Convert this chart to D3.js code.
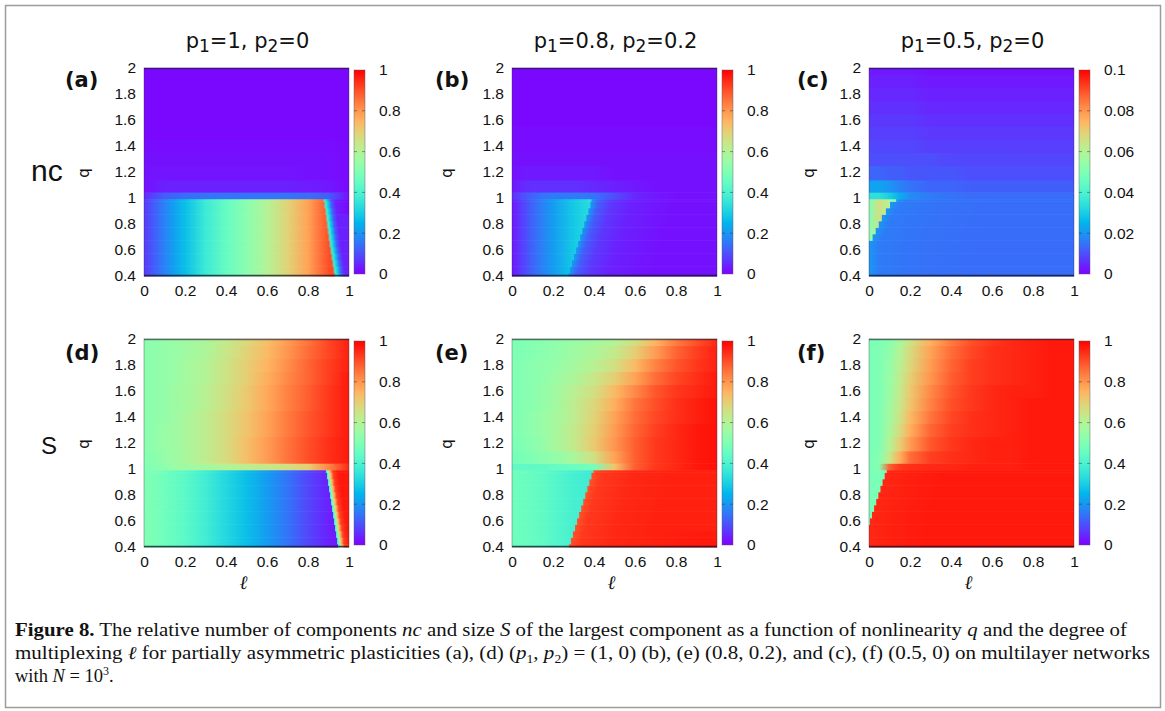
<!DOCTYPE html>
<html><head><meta charset="utf-8">
<script src="https://cdn.jsdelivr.net/npm/d3@7"></script>
<style>body{margin:0;background:#fff}svg{display:block}</style>
</head><body>
<svg id="fig" width="1165" height="711"></svg>
<script>
// ---------- shared grids / ticks ----------
const lGrid  = [0, 0.05, 0.1, 0.15, 0.2, 0.3, 0.4, 0.5, 0.6, 0.7, 0.8, 0.9, 1.0];
const upperQ = [1.01, 1.08, 1.2, 1.3, 1.4, 1.5, 1.6, 1.7, 1.8, 1.9, 2.0];
const lowerQ = [0.4, 0.45, 0.5, 0.55, 0.6, 0.65, 0.7, 0.75, 0.8, 0.85, 0.9, 0.95, 1.0];
const qTicks = [0.4, 0.6, 0.8, 1, 1.2, 1.4, 1.6, 1.8, 2];
const lTicks = [0, 0.2, 0.4, 0.6, 0.8, 1];
const cbTicksUnit  = [0, 0.2, 0.4, 0.6, 0.8, 1];
const cbTicksSmall = [0, 0.02, 0.04, 0.06, 0.08, 0.1];
const colTitles = [["1","1","2","0"], ["1","0.8","2","0.2"], ["1","0.5","2","0"]];
const panelLetters = ["(a)","(b)","(c)","(d)","(e)","(f)"];
const rowLabels = ["nc","S"];

// ---------- panel (a): nc, p1=1 p2=0 ----------
const aUpper = [
  [0.05,0.09,0.12,0.13,0.14,0.15,0.15,0.15,0.15,0.15,0.14,0.12,0.02],
  [0.02,0.03,0.04,0.04,0.04,0.04,0.04,0.04,0.04,0.04,0.035,0.03,0.01],
  [0.02,0.025,0.025,0.025,0.025,0.025,0.025,0.025,0.025,0.025,0.02,0.02,0.01],
  [0.02,0.02,0.02,0.02,0.02,0.02,0.02,0.02,0.02,0.02,0.02,0.02,0.01],
  [0.015,0.015,0.015,0.015,0.015,0.015,0.015,0.015,0.015,0.015,0.015,0.015,0.01],
  [0.01,0.01,0.01,0.01,0.01,0.01,0.01,0.01,0.01,0.01,0.01,0.01,0.01],
  [0.01,0.01,0.01,0.01,0.01,0.01,0.01,0.01,0.01,0.01,0.01,0.01,0.01],
  [0.01,0.01,0.01,0.01,0.01,0.01,0.01,0.01,0.01,0.01,0.01,0.01,0.01],
  [0.01,0.01,0.01,0.01,0.01,0.01,0.01,0.01,0.01,0.01,0.01,0.01,0.01],
  [0.01,0.01,0.01,0.01,0.01,0.01,0.01,0.01,0.01,0.01,0.01,0.01,0.01],
  [0.01,0.01,0.01,0.01,0.01,0.01,0.01,0.01,0.01,0.01,0.01,0.01,0.01]
];
const aLowerL   = [0.07,0.12,0.17,0.22,0.27,0.37,0.45,0.52,0.60,0.69,0.78,0.90,0.95];
const aEdge     = [0.925,0.92,0.915,0.91,0.905,0.90,0.896,0.892,0.888,0.884,0.88,0.875,0.87];
const aRightOff = [0.012,0.025,0.04,0.06,0.12];
const aRightVal = [0.38,0.28,0.12,0.04,0.01];

// ---------- panel (b): nc, p1=0.8 p2=0.2 ----------
const bUpper = [
  [0.06,0.10,0.13,0.15,0.16,0.16,0.15,0.10,0.05,0.03,0.02,0.02,0.02],
  [0.03,0.05,0.06,0.06,0.06,0.06,0.05,0.04,0.03,0.02,0.02,0.02,0.02],
  [0.02,0.03,0.03,0.03,0.03,0.03,0.03,0.02,0.02,0.02,0.02,0.02,0.02],
  [0.02,0.02,0.02,0.02,0.02,0.02,0.02,0.02,0.02,0.02,0.02,0.02,0.02],
  [0.015,0.015,0.015,0.015,0.015,0.015,0.015,0.015,0.015,0.015,0.015,0.015,0.015],
  [0.015,0.015,0.015,0.015,0.015,0.015,0.015,0.015,0.015,0.015,0.015,0.015,0.015],
  [0.01,0.01,0.01,0.01,0.01,0.01,0.01,0.01,0.01,0.01,0.01,0.01,0.01],
  [0.01,0.01,0.01,0.01,0.01,0.01,0.01,0.01,0.01,0.01,0.01,0.01,0.01],
  [0.01,0.01,0.01,0.01,0.01,0.01,0.01,0.01,0.01,0.01,0.01,0.01,0.01],
  [0.01,0.01,0.01,0.01,0.01,0.01,0.01,0.01,0.01,0.01,0.01,0.01,0.01],
  [0.01,0.01,0.01,0.01,0.01,0.01,0.01,0.01,0.01,0.01,0.01,0.01,0.01]
];
const bLowerL   = [0.03,0.08,0.13,0.17,0.21,0.29,0.34,0.34,0.34,0.34,0.34,0.34,0.34];
const bEdge     = [0.27,0.28,0.29,0.30,0.31,0.32,0.33,0.34,0.35,0.36,0.37,0.38,0.385];
const bRightOff = [0.005,0.04,0.10,0.20,0.40];
const bRightVal = [0.20,0.12,0.07,0.04,0.02];

// ---------- panel (c): nc, p1=0.5 p2=0 (scale 0..0.1) ----------
const cUpper = [
  [0.034,0.034,0.03,0.024,0.019,0.016,0.015,0.014,0.014,0.014,0.014,0.014,0.014],
  [0.022,0.022,0.020,0.017,0.015,0.013,0.013,0.012,0.012,0.012,0.012,0.012,0.012],
  [0.013,0.013,0.012,0.012,0.011,0.011,0.011,0.010,0.010,0.010,0.010,0.010,0.010],
  [0.010,0.010,0.010,0.010,0.010,0.010,0.009,0.009,0.009,0.009,0.009,0.009,0.009],
  [0.009,0.009,0.009,0.009,0.009,0.008,0.008,0.008,0.008,0.008,0.008,0.008,0.008],
  [0.008,0.008,0.008,0.008,0.008,0.007,0.007,0.007,0.007,0.007,0.007,0.007,0.007],
  [0.007,0.007,0.007,0.007,0.007,0.006,0.006,0.006,0.006,0.006,0.006,0.006,0.006],
  [0.006,0.006,0.006,0.006,0.006,0.005,0.005,0.005,0.005,0.005,0.005,0.005,0.005],
  [0.005,0.005,0.005,0.005,0.005,0.004,0.004,0.004,0.004,0.004,0.004,0.004,0.004],
  [0.004,0.004,0.004,0.004,0.004,0.003,0.003,0.003,0.003,0.003,0.003,0.003,0.003],
  [0.003,0.003,0.003,0.003,0.003,0.002,0.002,0.002,0.002,0.002,0.002,0.002,0.002]
];
const cLowerL   = [0.05,0.066,0.06,0.042,0.03,0.02,0.015,0.015,0.015,0.015,0.015,0.015,0.015];
const cEdge     = [0,0,0,0,0,0,0.015,0.03,0.045,0.06,0.08,0.10,0.13];
const cRightOff = [0.005,0.05,0.20,0.50];
const cRightVal = [0.02,0.016,0.015,0.014];

// ---------- panel (d): S, p1=1 p2=0 ----------
const dUpper = [
  [0.50,0.51,0.53,0.55,0.56,0.58,0.60,0.62,0.64,0.66,0.70,0.82,0.95],
  [0.51,0.52,0.54,0.56,0.58,0.62,0.67,0.73,0.79,0.85,0.90,0.94,0.97],
  [0.52,0.53,0.55,0.56,0.58,0.62,0.67,0.73,0.79,0.85,0.90,0.94,0.97],
  [0.52,0.53,0.55,0.56,0.58,0.62,0.67,0.72,0.78,0.84,0.89,0.93,0.97],
  [0.52,0.53,0.54,0.56,0.58,0.62,0.67,0.72,0.78,0.84,0.89,0.93,0.97],
  [0.52,0.53,0.54,0.56,0.57,0.61,0.66,0.71,0.77,0.83,0.88,0.93,0.97],
  [0.52,0.53,0.54,0.56,0.57,0.61,0.66,0.71,0.77,0.83,0.88,0.93,0.97],
  [0.52,0.53,0.54,0.55,0.57,0.60,0.65,0.70,0.76,0.82,0.87,0.92,0.97],
  [0.52,0.53,0.54,0.55,0.57,0.60,0.65,0.70,0.75,0.81,0.87,0.92,0.96],
  [0.52,0.53,0.54,0.55,0.56,0.59,0.64,0.69,0.74,0.80,0.86,0.91,0.96],
  [0.52,0.53,0.54,0.55,0.56,0.59,0.63,0.68,0.73,0.79,0.85,0.91,0.96]
];
const dLowerL   = [0.50,0.49,0.47,0.45,0.43,0.38,0.32,0.27,0.21,0.15,0.09,0.04,0.02];
const dEdge     = [0.945,0.94,0.935,0.93,0.925,0.92,0.915,0.91,0.905,0.90,0.895,0.89,0.885];
const dRightOff = [0.004,0.012,0.022,0.035,0.06];
const dRightVal = [0.38,0.55,0.75,0.92,0.97];

// ---------- panel (e): S, p1=0.8 p2=0.2 ----------
const eUpper = [
  [0.44,0.44,0.44,0.44,0.45,0.46,0.48,0.72,0.88,0.93,0.95,0.97,0.98],
  [0.48,0.49,0.50,0.52,0.53,0.58,0.66,0.78,0.88,0.93,0.95,0.97,0.98],
  [0.49,0.50,0.52,0.54,0.57,0.63,0.71,0.80,0.88,0.93,0.95,0.97,0.98],
  [0.50,0.51,0.53,0.55,0.57,0.63,0.70,0.79,0.87,0.92,0.95,0.97,0.98],
  [0.50,0.51,0.53,0.55,0.57,0.62,0.69,0.78,0.86,0.91,0.94,0.96,0.98],
  [0.50,0.51,0.52,0.54,0.56,0.62,0.68,0.76,0.85,0.90,0.94,0.96,0.98],
  [0.50,0.51,0.52,0.54,0.56,0.61,0.66,0.74,0.82,0.89,0.93,0.95,0.97],
  [0.50,0.51,0.52,0.53,0.55,0.59,0.64,0.70,0.78,0.86,0.91,0.94,0.97],
  [0.50,0.51,0.52,0.53,0.54,0.57,0.61,0.66,0.74,0.83,0.89,0.93,0.96],
  [0.50,0.50,0.51,0.52,0.53,0.56,0.59,0.63,0.70,0.79,0.87,0.92,0.96],
  [0.50,0.50,0.51,0.52,0.53,0.55,0.57,0.60,0.66,0.75,0.84,0.90,0.95]
];
const eLowerL   = [0.47,0.46,0.45,0.44,0.42,0.39,0.37,0.37,0.37,0.37,0.37,0.37,0.37];
const eEdge     = [0.275,0.285,0.295,0.305,0.315,0.325,0.335,0.345,0.355,0.365,0.375,0.385,0.395];
const eRightOff = [0.005,0.05,0.20,0.40,0.70];
const eRightVal = [0.90,0.93,0.95,0.96,0.97];

// ---------- panel (f): S, p1=0.5 p2=0 ----------
const fUpper = [
  [0.49,0.51,0.88,0.93,0.94,0.95,0.95,0.96,0.96,0.96,0.97,0.97,0.97],
  [0.49,0.51,0.64,0.76,0.86,0.92,0.94,0.95,0.96,0.96,0.97,0.97,0.97],
  [0.49,0.50,0.60,0.70,0.79,0.89,0.93,0.95,0.96,0.96,0.97,0.97,0.97],
  [0.49,0.50,0.58,0.67,0.76,0.87,0.92,0.94,0.95,0.96,0.97,0.97,0.97],
  [0.49,0.50,0.57,0.65,0.74,0.85,0.91,0.94,0.95,0.96,0.97,0.97,0.97],
  [0.49,0.50,0.56,0.64,0.72,0.83,0.90,0.93,0.95,0.96,0.97,0.97,0.97],
  [0.49,0.50,0.55,0.63,0.71,0.82,0.89,0.93,0.95,0.96,0.96,0.97,0.97],
  [0.49,0.50,0.55,0.62,0.70,0.80,0.88,0.92,0.94,0.95,0.96,0.97,0.97],
  [0.49,0.50,0.54,0.61,0.68,0.79,0.87,0.92,0.94,0.95,0.96,0.97,0.97],
  [0.49,0.50,0.53,0.60,0.67,0.78,0.86,0.91,0.94,0.95,0.96,0.97,0.97],
  [0.49,0.50,0.52,0.58,0.65,0.76,0.84,0.90,0.93,0.95,0.96,0.97,0.97]
];
const fLowerL   = [0.49,0.49,0.49,0.49,0.49,0.49,0.49,0.49,0.49,0.49,0.49,0.49,0.49];
const fEdge     = [0,0,0,0,0.005,0.015,0.025,0.035,0.045,0.055,0.065,0.075,0.085];
const fRightOff = [0.002,0.10,0.30,0.70];
const fRightVal = [0.95,0.96,0.97,0.97];

// ---------- layout ----------
const colX = [144, 512, 869];
const rowY = [68, 339];
const W = 205, H = 208;
const qLabelX = [89, 452, 814];
const letterX = [65, 435, 797];

const panels = [
  {id:"a", col:0, row:0, up:aUpper, lowL:aLowerL, edge:aEdge, rOff:aRightOff, rVal:aRightVal, vmax:1,   cb:cbTicksUnit},
  {id:"b", col:1, row:0, up:bUpper, lowL:bLowerL, edge:bEdge, rOff:bRightOff, rVal:bRightVal, vmax:1,   cb:cbTicksUnit},
  {id:"c", col:2, row:0, up:cUpper, lowL:cLowerL, edge:cEdge, rOff:cRightOff, rVal:cRightVal, vmax:0.1, cb:cbTicksSmall},
  {id:"d", col:0, row:1, up:dUpper, lowL:dLowerL, edge:dEdge, rOff:dRightOff, rVal:dRightVal, vmax:1,   cb:cbTicksUnit},
  {id:"e", col:1, row:1, up:eUpper, lowL:eLowerL, edge:eEdge, rOff:eRightOff, rVal:eRightVal, vmax:1,   cb:cbTicksUnit},
  {id:"f", col:2, row:1, up:fUpper, lowL:fLowerL, edge:fEdge, rOff:fRightOff, rVal:fRightVal, vmax:1,   cb:cbTicksUnit}
];

// gnuplot-style rainbow palette (rgbformulae 33,13,10)
function rainbow(t) {
  const x = Math.max(0, Math.min(1, t));
  const r = Math.min(1, Math.abs(2 * x - 0.5));
  const g = Math.sin(Math.PI * x);
  const b = Math.cos(Math.PI * x / 2);
  return d3.rgb(r * 255, g * 255, b * 255).formatHex();
}

const svg = d3.select("#fig");
const defs = svg.append("defs");

// outer frame
svg.append("rect").attr("x", 5.5).attr("y", 5.5).attr("width", 1155).attr("height", 702)
  .attr("fill", "none").attr("stroke", "#9c9c9c").attr("stroke-width", 1.5);

function valueAt(profile, l) {
  const j = d3.bisectRight(lGrid, l);
  if (j <= 0) return profile[0];
  if (j >= lGrid.length) return profile[lGrid.length - 1];
  const t = (l - lGrid[j - 1]) / (lGrid[j] - lGrid[j - 1]);
  return profile[j - 1] + t * (profile[j] - profile[j - 1]);
}

panels.forEach(p => {
  const x0 = colX[p.col], y0 = rowY[p.row];
  const x = d3.scaleLinear().domain([0, 1]).range([x0, x0 + W]);
  const y = d3.scaleLinear().domain([0.4, 2]).range([y0 + H, y0]);
  const c = d3.scaleLinear().domain([0, p.vmax]).range([0, 1]);
  const g = svg.append("g");

  function addRow(key, stops, qb, qt) {
    const id = "g" + p.id + key;
    const gr = defs.append("linearGradient").attr("id", id)
      .attr("gradientUnits", "userSpaceOnUse")
      .attr("x1", x(0)).attr("x2", x(1)).attr("y1", 0).attr("y2", 0);
    stops.forEach(s => gr.append("stop")
      .attr("offset", (s[0] * 100).toFixed(3) + "%")
      .attr("stop-color", rainbow(c(s[1]))));
    g.append("rect").attr("x", x(0)).attr("width", W)
      .attr("y", y(qt)).attr("height", y(qb) - y(qt) + 0.6)
      .attr("fill", "url(#" + id + ")");
  }

  // upper region rows (q > ~1)
  p.up.forEach((row, i) => {
    const qb = i === 0 ? 0.99 : (upperQ[i - 1] + upperQ[i]) / 2;
    const qt = i === upperQ.length - 1 ? 2.0 : (upperQ[i] + upperQ[i + 1]) / 2;
    addRow("u" + i, lGrid.map((l, j) => [l, row[j]]), qb, qt);
  });

  // lower region rows (q < ~1) with sharp edge
  lowerQ.forEach((q, k) => {
    const qb = k === 0 ? 0.4 : (lowerQ[k - 1] + q) / 2;
    const qt = k === lowerQ.length - 1 ? 0.99 : (q + lowerQ[k + 1]) / 2;
    const e = p.edge[k];
    const stops = [];
    lGrid.forEach((l, j) => { if (l < e) stops.push([l, p.lowL[j]]); });
    if (e > 0) stops.push([e, valueAt(p.lowL, e)]);
    p.rOff.forEach((o, m) => { if (e + o <= 1) stops.push([e + o, p.rVal[m]]); });
    addRow("l" + k, stops, qb, qt);
  });

  // plot border
  g.append("rect").attr("x", x(0)).attr("y", y(2)).attr("width", W).attr("height", H)
    .attr("fill", "none").attr("stroke", "rgba(40,40,60,0.35)").attr("stroke-width", 1);
  g.append("line").attr("x1", x(0)).attr("x2", x(1)).attr("y1", y(0.4) - 0.5).attr("y2", y(0.4) - 0.5)
    .attr("stroke", "rgba(20,20,40,0.75)").attr("stroke-width", 1.6);
  g.append("line").attr("x1", x(0)).attr("x2", x(1)).attr("y1", y(2) + 0.5).attr("y2", y(2) + 0.5)
    .attr("stroke", "rgba(20,20,40,0.5)").attr("stroke-width", 1.4);

  // axes
  const ya = g.append("g").attr("transform", `translate(${x0},0)`)
    .call(d3.axisLeft(y).tickValues(qTicks).tickFormat(d3.format("~g")).tickSize(0).tickPadding(8));
  const xa = g.append("g").attr("transform", `translate(0,${y0 + H})`)
    .call(d3.axisBottom(x).tickValues(lTicks).tickFormat(d3.format("~g")).tickSize(0).tickPadding(9));
  [ya, xa].forEach(a => {
    a.select(".domain").remove();
    a.attr("font-family", "'Liberation Sans', Arial, sans-serif").attr("font-size", 15.5);
    a.selectAll("text").attr("fill", "#111");
  });

  // colorbar
  const cbX = x0 + W + 5, cbY = y0 + 2, cbW = 11, cbH = H - 4;
  const cs = d3.scaleLinear().domain([0, p.vmax]).range([cbY + cbH, cbY]);
  const cgid = "cb" + p.id;
  const cgr = defs.append("linearGradient").attr("id", cgid)
    .attr("gradientUnits", "userSpaceOnUse")
    .attr("x1", 0).attr("x2", 0).attr("y1", cbY + cbH).attr("y2", cbY);
  d3.range(0, 1.0001, 0.025).forEach(t => cgr.append("stop")
    .attr("offset", (t * 100).toFixed(2) + "%").attr("stop-color", rainbow(t)));
  g.append("rect").attr("x", cbX).attr("y", cbY).attr("width", cbW).attr("height", cbH)
    .attr("fill", "url(#" + cgid + ")").attr("stroke", "rgba(90,90,110,0.45)").attr("stroke-width", 1);
  p.cb.slice(1, -1).forEach(v => {
    g.append("line").attr("x1", cbX + cbW - 3).attr("x2", cbX + cbW).attr("y1", cs(v)).attr("y2", cs(v))
      .attr("stroke", "rgba(40,40,40,0.45)");
    g.append("line").attr("x1", cbX).attr("x2", cbX + 3).attr("y1", cs(v)).attr("y2", cs(v))
      .attr("stroke", "rgba(40,40,40,0.45)");
  });
  const ca = g.append("g").attr("transform", `translate(${cbX + cbW},0)`)
    .call(d3.axisRight(cs).tickValues(p.cb).tickFormat(d3.format("~g")).tickSize(0).tickPadding(14));
  ca.select(".domain").remove();
  ca.attr("font-family", "'Liberation Sans', Arial, sans-serif").attr("font-size", 15.5);
  ca.selectAll("text").attr("fill", "#111");

  // q label
  g.append("text").attr("transform", `translate(${qLabelX[p.col]},${y(1.2) + 1}) rotate(-90)`)
    .attr("text-anchor", "middle").attr("font-family", "'DejaVu Sans', sans-serif")
    .attr("font-size", 15).attr("fill", "#111").text("q");

  // panel letter
  g.append("text").attr("x", letterX[p.col]).attr("y", y0 + (p.row === 0 ? 19 : 21))
    .attr("font-family", "'DejaVu Sans', sans-serif").attr("font-weight", "bold")
    .attr("font-size", 21).attr("fill", "#111").text(panelLetters[p.col + 3 * p.row]);

  // ℓ label for bottom row
  if (p.row === 1) {
    g.append("text").attr("x", x(0.5) - 3).attr("y", y0 + H + 42)
      .attr("text-anchor", "middle").attr("font-family", "'Liberation Serif', serif")
      .attr("font-style", "italic").attr("font-size", 19).attr("fill", "#111").text("ℓ");
  }

  // column title
  if (p.row === 0) {
    const tt = colTitles[p.col];
    const t = g.append("text").attr("x", x(0.5) + 1).attr("y", 48).attr("text-anchor", "middle")
      .attr("font-family", "'DejaVu Sans', sans-serif").attr("font-size", 21).attr("fill", "#111");
    t.append("tspan").text("p");
    t.append("tspan").attr("font-size", 17).attr("dy", 4).text(tt[0]);
    t.append("tspan").attr("dy", -4).text("=" + tt[1] + ", p");
    t.append("tspan").attr("font-size", 17).attr("dy", 4).text(tt[2]);
    t.append("tspan").attr("dy", -4).text("=" + tt[3]);
  }
});

// row labels
svg.append("text").attr("x", 31).attr("y", 181).attr("font-family", "'Liberation Sans', sans-serif")
  .attr("font-size", 30).attr("fill", "#111").text(rowLabels[0]);
svg.append("text").attr("x", 41).attr("y", 454).attr("font-family", "'Liberation Sans', sans-serif")
  .attr("font-size", 24).attr("fill", "#111").text(rowLabels[1]);

// caption
const capFont = "'Liberation Serif', 'Times New Roman', serif";
function capLine(yb, parts, len) {
  const t = svg.append("text").attr("x", 15).attr("y", yb).attr("font-family", capFont)
    .attr("font-size", 18.5).attr("fill", "#111");
  if (len) t.attr("textLength", len).attr("lengthAdjust", "spacingAndGlyphs");
  parts.forEach(pt => {
    const s = t.append("tspan").text(pt.t);
    if (pt.b) s.attr("font-weight", "bold");
    if (pt.i) s.attr("font-style", "italic");
    if (pt.sub) s.attr("font-size", 12).attr("dy", 4);
    if (pt.sup) s.attr("font-size", 12).attr("dy", -7);
    if (pt.back) s.attr("dy", pt.back);
  });
}
capLine(636, [
  {t:"Figure 8.", b:1}, {t:" The relative number of components "}, {t:"nc", i:1},
  {t:" and size "}, {t:"S", i:1}, {t:" of the largest component as a function of nonlinearity "},
  {t:"q", i:1}, {t:" and the degree of"}], 1112);
capLine(659, [
  {t:"multiplexing "}, {t:"ℓ", i:1}, {t:" for partially asymmetric plasticities (a), (d) ("},
  {t:"p", i:1}, {t:"1", sub:1}, {t:", ", back:-4}, {t:"p", i:1}, {t:"2", sub:1},
  {t:") = (1, 0) (b), (e) (0.8, 0.2), and (c), (f) (0.5, 0) on multilayer networks", back:-4}], 1135);
capLine(682, [
  {t:"with "}, {t:"N", i:1}, {t:" = 10"}, {t:"3", sup:1}, {t:".", back:7}]);
</script>
</body></html>
